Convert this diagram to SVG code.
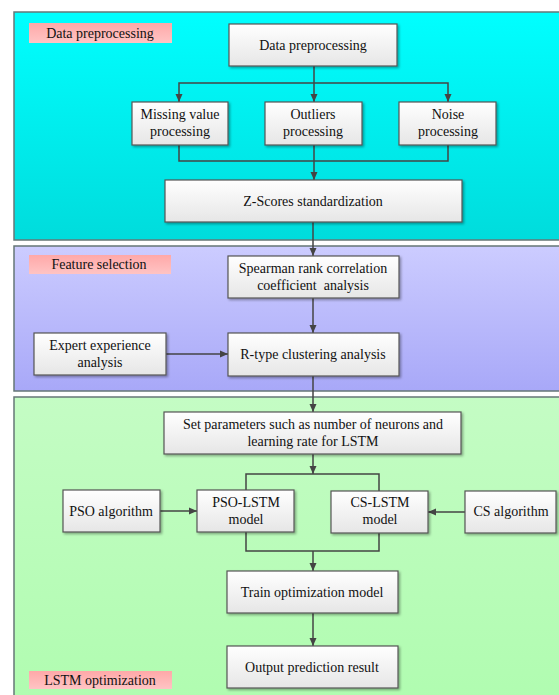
<svg xmlns="http://www.w3.org/2000/svg" width="559" height="695" viewBox="0 0 559 695">
<style>
text{font-family:'Liberation Serif','DejaVu Serif',serif;font-size:14px;fill:#111;text-anchor:middle}
.node rect{fill:url(#gBox);stroke:#555;stroke-width:1.2;filter:url(#sh)}
.panel{stroke:#667777;stroke-width:1.5}
.tag{fill:url(#gTag)}
.conn path{fill:none;stroke:#444;stroke-width:1.5}
.arr{marker-end:url(#ah)}
</style>
<defs>
<linearGradient id="gBox" x1="0" y1="0" x2="0" y2="1"><stop offset="0" stop-color="#ffffff"/><stop offset="1" stop-color="#e6e6e6"/></linearGradient>
<linearGradient id="gTag" x1="0" y1="0" x2="0" y2="1"><stop offset="0" stop-color="#ffa8a8"/><stop offset="1" stop-color="#ffc4c4"/></linearGradient>
<linearGradient id="gP1" x1="0" y1="0" x2="0" y2="1"><stop offset="0" stop-color="#00ffff"/><stop offset="1" stop-color="#00dcdc"/></linearGradient>
<linearGradient id="gP2" x1="0" y1="0" x2="0" y2="1"><stop offset="0" stop-color="#ccccff"/><stop offset="1" stop-color="#a8a8f8"/></linearGradient>
<linearGradient id="gP3" x1="0" y1="0" x2="0" y2="1"><stop offset="0" stop-color="#c4fcc4"/><stop offset="1" stop-color="#b0fcb0"/></linearGradient>
<filter id="sh" x="-10%" y="-10%" width="130%" height="140%"><feDropShadow dx="1.5" dy="1.5" stdDeviation="0.8" flood-color="#000" flood-opacity="0.35"/></filter>
<marker id="ah" markerWidth="10" markerHeight="10" refX="9" refY="5" orient="auto" markerUnits="userSpaceOnUse"><path d="M1,1.5 L9,5 L1,8.5 Z" fill="#444"/></marker>
</defs>

<g id="panels">
<rect class="panel" x="14" y="12" width="552" height="228" fill="url(#gP1)"/>
<rect class="panel" x="14" y="246" width="552" height="145" fill="url(#gP2)"/>
<rect class="panel" x="14" y="397" width="552" height="306" fill="url(#gP3)"/>
</g>

<g font-family="Liberation Serif, DejaVu Serif, serif">
<g id="tags">
<g id="tag1"><rect class="tag" x="29" y="23" width="143" height="20"/><text x="100" y="38">Data preprocessing</text></g>
<g id="tag2"><rect class="tag" x="29" y="255" width="142" height="19"/><text x="99" y="269">Feature selection</text></g>
<g id="tag3"><rect class="tag" x="29" y="671" width="143" height="18"/><text x="100" y="685">LSTM optimization</text></g>
</g>

<g id="connectors" class="conn">
<path d="M314,66 V83"/>
<path class="arr" d="M314,83 H179 V102"/>
<path class="arr" d="M314,83 V102"/>
<path class="arr" d="M314,83 H448 V102"/>
<path d="M179,145 V161 H448 V145"/>
<path class="arr" d="M314,145 V180"/>
<path class="arr" d="M313,222 V256"/>
<path class="arr" d="M313,298 V333"/>
<path class="arr" d="M166,354 H228"/>
<path class="arr" d="M313,376 V412"/>
<path class="arr" d="M313,454 V474"/>
<path d="M246,490 V474 H379 V491"/>
<path class="arr" d="M160,511 H197"/>
<path class="arr" d="M465,512 H428"/>
<path d="M246,532 V551 H379 V533"/>
<path class="arr" d="M313,551 V571"/>
<path class="arr" d="M313,613 V646"/>
</g>

<g id="n-data" class="node"><rect x="229" y="24" width="168" height="42"/><text x="313" y="50">Data preprocessing</text></g>
<g id="n-missing" class="node"><rect x="132" y="102" width="96" height="43"/><text x="180" y="119">Missing value</text><text x="180" y="136">processing</text></g>
<g id="n-outliers" class="node"><rect x="265" y="102" width="97" height="43"/><text x="313" y="119">Outliers</text><text x="313" y="136">processing</text></g>
<g id="n-noise" class="node"><rect x="399" y="102" width="97" height="43"/><text x="448" y="119">Noise</text><text x="448" y="136">processing</text></g>
<g id="n-z" class="node"><rect x="165" y="180" width="297" height="42"/><text x="313" y="206">Z-Scores standardization</text></g>

<g id="n-spearman" class="node"><rect x="228" y="256" width="171" height="42"/><text x="313" y="273">Spearman rank correlation</text><text x="313" y="290" style="white-space:pre">coefficient  analysis</text></g>
<g id="n-expert" class="node"><rect x="34" y="333" width="132" height="42"/><text x="100" y="350">Expert experience</text><text x="100" y="367">analysis</text></g>
<g id="n-rtype" class="node"><rect x="228" y="333" width="171" height="43"/><text x="313" y="359">R-type clustering analysis</text></g>

<g id="n-set" class="node"><rect x="164" y="412" width="297" height="42"/><text x="313" y="429">Set parameters such as number of neurons and</text><text x="313" y="446">learning rate for LSTM</text></g>
<g id="n-pso" class="node"><rect x="63" y="490" width="97" height="42"/><text x="111" y="516">PSO algorithm</text></g>
<g id="n-psolstm" class="node"><rect x="197" y="490" width="97" height="42"/><text x="246" y="507">PSO-LSTM</text><text x="246" y="524">model</text></g>
<g id="n-cslstm" class="node"><rect x="331" y="491" width="97" height="42"/><text x="380" y="507">CS-LSTM</text><text x="380" y="524">model</text></g>
<g id="n-cs" class="node"><rect x="465" y="491" width="91" height="42"/><text x="511" y="516">CS algorithm</text></g>
<g id="n-train" class="node"><rect x="227" y="571" width="171" height="42"/><text x="312" y="597">Train optimization model</text></g>
<g id="n-output" class="node"><rect x="227" y="646" width="171" height="42"/><text x="312" y="672">Output prediction result</text></g>
</g>
</svg>
